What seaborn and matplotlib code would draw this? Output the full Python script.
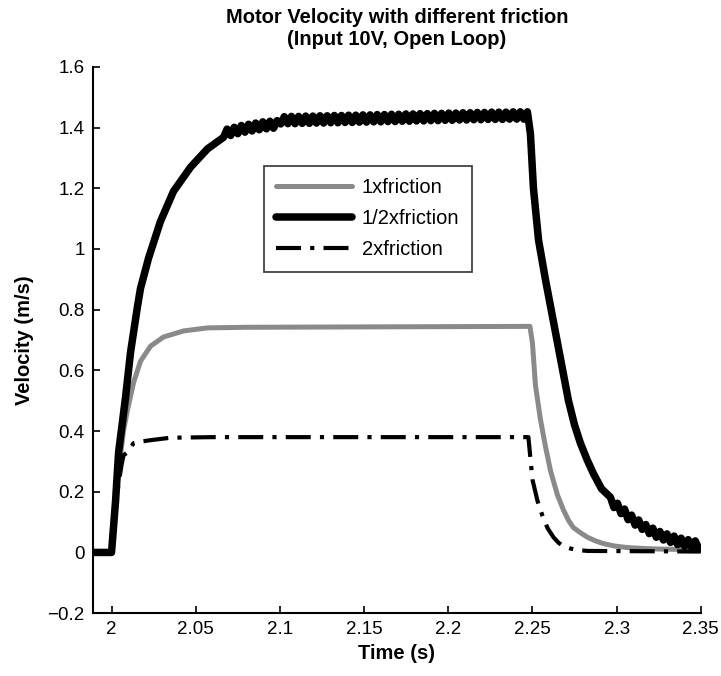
import numpy as np
import pandas as pd
import matplotlib
matplotlib.use("Agg")
import matplotlib.pyplot as plt
import seaborn as sns

# ---------------- data ----------------
# 1x friction (gray)
t_1x = [1.989, 2.000, 2.002, 2.004, 2.0071, 2.0095, 2.0131, 2.0172, 2.0232, 2.0309,
        2.0428, 2.057, 2.080, 2.2485, 2.2500, 2.2518, 2.2547, 2.2577, 2.2607, 2.2648,
        2.2684, 2.2715, 2.2743, 2.2785, 2.2827, 2.2875, 2.2922, 2.2990, 2.3064, 2.3160,
        2.3260, 2.3500]
v_1x = [0.0, 0.0, 0.14, 0.26, 0.40, 0.47, 0.56, 0.63, 0.68, 0.71,
        0.73, 0.74, 0.742, 0.745, 0.69, 0.55, 0.44, 0.35, 0.27, 0.19,
        0.14, 0.105, 0.082, 0.065, 0.050, 0.038, 0.029, 0.021, 0.016, 0.013,
        0.011, 0.009]

# 1/2x friction (black) : rise, rippled plateau, fall, rippled tail
t_half_rise = [1.989, 2.000, 2.0024, 2.0042, 2.0083, 2.0113, 2.0154, 2.0172, 2.022, 2.029,
               2.0368, 2.047, 2.057]
v_half_rise = [0.0, 0.0, 0.17, 0.33, 0.51, 0.66, 0.81, 0.87, 0.97, 1.09,
               1.19, 1.27, 1.33]
v_half_plateau = [1.368, 1.395, 1.374, 1.401, 1.380, 1.407, 1.385, 1.411, 1.389, 1.415,
                  1.393, 1.419, 1.396, 1.421, 1.398, 1.423,
                  1.412, 1.436, 1.413, 1.437, 1.413, 1.437, 1.414, 1.438, 1.414, 1.438,
                  1.415, 1.439, 1.415, 1.439, 1.416, 1.440, 1.416, 1.440, 1.417, 1.441,
                  1.417, 1.441, 1.418, 1.442, 1.418, 1.442, 1.419, 1.443, 1.419, 1.443,
                  1.420, 1.444, 1.420, 1.444, 1.421, 1.445, 1.421, 1.445, 1.422, 1.446,
                  1.422, 1.446, 1.423, 1.447, 1.423, 1.447, 1.424, 1.448, 1.424, 1.448,
                  1.425, 1.449, 1.425, 1.449, 1.426, 1.450, 1.426, 1.450, 1.427, 1.451,
                  1.427, 1.451, 1.427, 1.451, 1.428, 1.452, 1.428, 1.452, 1.428, 1.452]
t_half_plateau = np.linspace(2.0665, 2.2470, len(v_half_plateau))
t_half_fall = [2.2488, 2.2506, 2.2536, 2.2577, 2.2625, 2.2666, 2.2714, 2.2750, 2.2785,
               2.2825, 2.2862, 2.2910]
v_half_fall = [1.38, 1.20, 1.03, 0.90, 0.76, 0.64, 0.50, 0.42, 0.36,
               0.305, 0.26, 0.21]
v_half_tail = [0.182, 0.148, 0.162, 0.128, 0.143, 0.108, 0.123, 0.090, 0.107, 0.076,
               0.092, 0.062, 0.080, 0.050, 0.069, 0.041, 0.061, 0.033, 0.054, 0.026,
               0.047, 0.020, 0.042, 0.016, 0.038, 0.013]
t_half_tail = np.linspace(2.2963, 2.3488, len(v_half_tail))

# 2x friction (dash-dot)
t_2x = [1.989, 2.000, 2.002, 2.004, 2.006, 2.0071, 2.0095, 2.0131, 2.0172, 2.0232,
        2.035, 2.060, 2.2476, 2.2488, 2.2500, 2.2530, 2.2560, 2.2590, 2.2625, 2.2655,
        2.2684, 2.2725, 2.2767, 2.2827, 2.350]
v_2x = [0.0, 0.0, 0.12, 0.22, 0.29, 0.32, 0.33, 0.36, 0.365, 0.37,
        0.378, 0.38, 0.38, 0.31, 0.24, 0.17, 0.12, 0.08, 0.05, 0.032,
        0.020, 0.013, 0.008, 0.005, 0.003]

x_ticks = [2.0, 2.05, 2.1, 2.15, 2.2, 2.25, 2.3, 2.35]
x_tick_labels = ["2", "2.05", "2.1", "2.15", "2.2", "2.25", "2.3", "2.35"]
y_ticks = [-0.2, 0.0, 0.2, 0.4, 0.6, 0.8, 1.0, 1.2, 1.4, 1.6]
y_tick_labels = ["\u22120.2", "0", "0.2", "0.4", "0.6", "0.8", "1", "1.2", "1.4", "1.6"]

# ---------------- build tables ----------------
df_1x = pd.DataFrame({"t": t_1x, "v": v_1x})
df_half = pd.DataFrame({
    "t": np.concatenate([t_half_rise, t_half_plateau, t_half_fall, t_half_tail]),
    "v": np.concatenate([v_half_rise, v_half_plateau, v_half_fall, v_half_tail]),
})
df_2x = pd.DataFrame({"t": t_2x, "v": v_2x})

# ---------------- style ----------------
sns.set_style("ticks")
plt.rcParams["font.family"] = ["Liberation Sans", "DejaVu Sans"]
plt.rcParams["text.color"] = "black"
plt.rcParams["axes.labelcolor"] = "black"

fig = plt.figure(figsize=(7.21, 6.76), dpi=100)
ax = fig.add_axes([0.129, 0.093, 0.843, 0.808])

sns.lineplot(data=df_1x, x="t", y="v", ax=ax, color="#8a8a8a", linewidth=3.6,
             sort=False, estimator=None, label="1xfriction")
sns.lineplot(data=df_half, x="t", y="v", ax=ax, color="black", linewidth=5.4,
             sort=False, estimator=None, label="1/2xfriction")
sns.lineplot(data=df_2x, x="t", y="v", ax=ax, color="black", linewidth=3.0,
             sort=False, estimator=None, label="2xfriction")
ax.lines[2].set_dashes([6, 2.2, 1, 2.2])

ax.set_xlim(1.989, 2.35)
ax.set_ylim(-0.2, 1.6)
ax.set_xticks(x_ticks)
ax.set_xticklabels(x_tick_labels)
ax.set_yticks(y_ticks)
ax.set_yticklabels(y_tick_labels)
ax.tick_params(direction="in", length=5, width=1.2, labelsize=13.5, colors="black", pad=6)

for s in ["top", "right"]:
    ax.spines[s].set_visible(False)
for s in ["left", "bottom"]:
    ax.spines[s].set_linewidth(1.5)
    ax.spines[s].set_color("black")

ax.set_xlabel("Time (s)", fontsize=14.5, fontweight="bold", labelpad=4, color="black")
ax.set_ylabel("Velocity (m/s)", fontsize=14.5, fontweight="bold", labelpad=10, color="black")
ax.set_title("Motor Velocity with different friction\n(Input 10V, Open Loop)",
             fontsize=14.5, fontweight="bold", pad=16, linespacing=1.15, color="black")

leg = ax.legend(loc="upper left", bbox_to_anchor=(0.281, 0.819), fontsize=14.5,
                frameon=True, fancybox=False, edgecolor="black", handlelength=3.75,
                handletextpad=0.5, labelspacing=0.6, borderpad=0.62, borderaxespad=0)
leg.get_frame().set_linewidth(1.2)
for txt in leg.get_texts():
    txt.set_color("black")

fig.savefig("out.png", dpi=100)
